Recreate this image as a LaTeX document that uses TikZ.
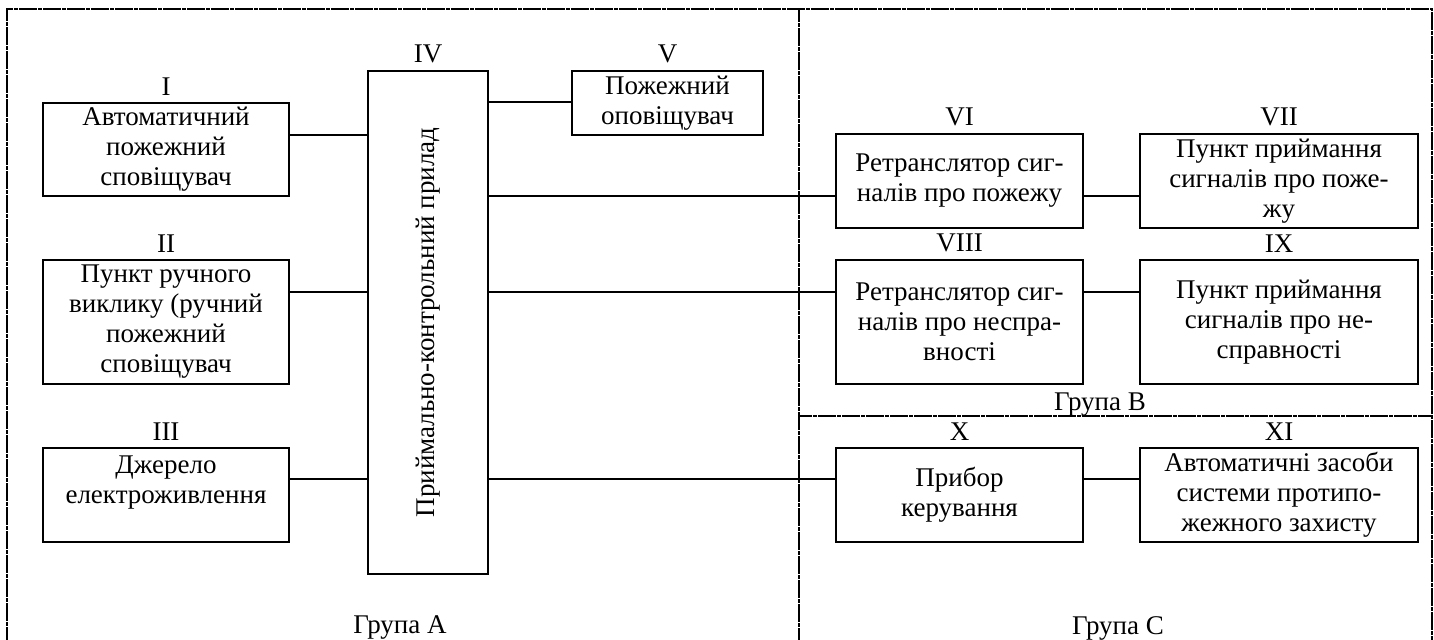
\documentclass[tikz,border=0pt]{standalone}
\usepackage{fontspec}
\setmainfont{Liberation Serif}
\tikzset{
  blok/.style={draw, line width=0.8pt, align=center, inner sep=0pt},
  rozm/.style 2 args={minimum width=#1*0.5pt, minimum height=#2*0.5pt},
  ramka/.style={line width=0.6pt, dash pattern=on 1.6pt off 0.8pt},
  zv/.style={line width=0.8pt}
}
\begin{document}
\begin{tikzpicture}[x=0.5pt, y=-0.5pt, font=\fontsize{13.5}{15}\selectfont, line cap=rect]
	\useasboundingbox (0,0) rectangle (1434,640);
	% grupy
	\draw[ramka] (7,640) -- (7,9) -- (1432,9) -- (1432,640);
	\draw[ramka] (799,9) -- (799,640);
	\draw[ramka] (799,416) -- (1432,416);
	% grupa A
	\node[blok, rozm={246}{93}, label=above:I] (I) at (166,149.5) {Автоматичний\\пожежний\\сповіщувач};
	\node[blok, rozm={246}{124}, label=above:II] (II) at (166,322) {Пункт ручного\\виклику (ручний\\пожежний\\сповіщувач};
	\node[blok, rozm={246}{94}, label=above:III] (III) at (166,495) {Джерело\\електроживлення\\\mbox{}};
	\node[blok, rozm={120}{503}, label=above:IV] (IV) at (428,322.5) {\rotatebox{90}{Приймально-контрольний прилад}};
	\node[blok, rozm={191}{64}, label=above:V] (V) at (667.5,103) {Пожежний\\оповіщувач};
	% grupa B
	\node[blok, rozm={247}{94}, label=above:VI] (VI) at (959.5,181) {Ретранслятор сиг-\\налів про пожежу};
	\node[blok, rozm={278}{94}, label=above:VII] (VII) at (1279,181) {Пункт приймання\\сигналів про поже-\\жу};
	\node[blok, rozm={247}{124}, label=above:VIII] (VIII) at (959.5,322) {Ретранслятор сиг-\\налів про неспра-\\вності};
	\node[blok, rozm={278}{124}, label=above:IX] (IX) at (1279,322) {Пункт приймання\\сигналів про не-\\справності};
	% grupa C
	\node[blok, rozm={247}{94}, label=above:X] (X) at (959.5,495) {Прибор\\керування};
	\node[blok, rozm={278}{94}, label=above:XI] (XI) at (1279,495) {Автоматичні засоби\\системи протипо-\\жежного захисту};
	\node (grA) at (400,628) {Група А};
	\node (grB) at (1100,405) {Група В};
	\node (grC) at (1118,628) {Група С};
	% zviazky
	\draw[zv] (I.east |- 0,135) -- (IV.west |- 0,135);
	\draw[zv] (II.east |- 0,292) -- (IV.west |- 0,292);
	\draw[zv] (III.east |- 0,479) -- (IV.west |- 0,479);
	\draw[zv] (IV.east |- 0,102) -- (V.west |- 0,102);
	\draw[zv] (IV.east |- 0,196) -- (VI.west |- 0,196);
	\draw[zv] (VI.east |- 0,196) -- (VII.west |- 0,196);
	\draw[zv] (IV.east |- 0,292) -- (VIII.west |- 0,292);
	\draw[zv] (VIII.east |- 0,292) -- (IX.west |- 0,292);
	\draw[zv] (IV.east |- 0,479) -- (X.west |- 0,479);
	\draw[zv] (X.east |- 0,479) -- (XI.west |- 0,479);
\end{tikzpicture}
\end{document}
